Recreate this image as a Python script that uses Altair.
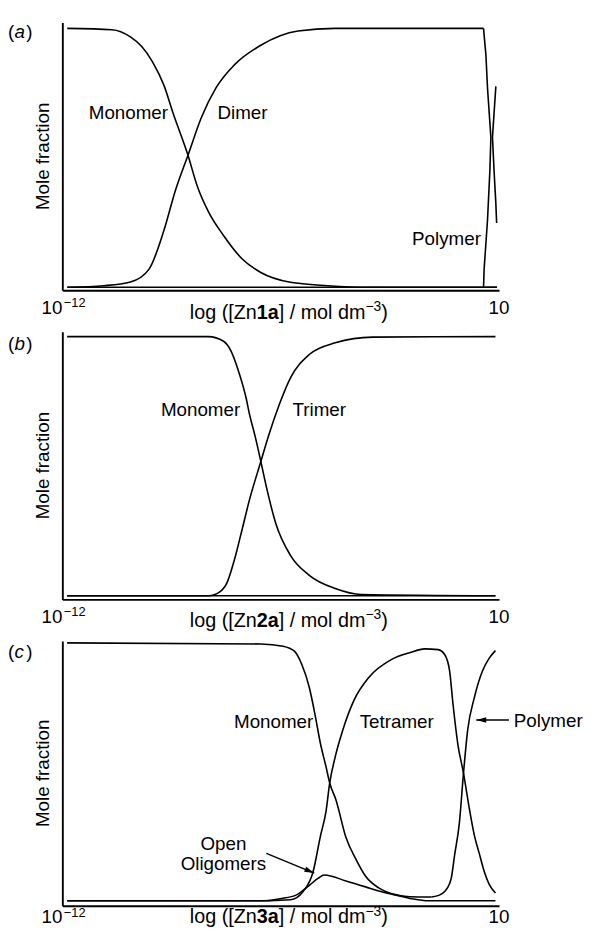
import altair as alt
import pandas as pd

# ---------------- data (log10 concentration vs mole fraction) ----------------
# Panel (a): Zn1a
A_MONOMER_X = [-11.75, -9.5, -8.57, -8.0, -7.45, -6.88, -6.41, -5.67, -5.2, -4.63, -3.88, -2.95, -2.0, -0.51, 1.37, 3.5, 9.9]
A_MONOMER_Y = [1.0, 0.995, 0.967, 0.93, 0.87, 0.78, 0.67, 0.51, 0.39, 0.29, 0.20, 0.11, 0.057, 0.019, 0.006, 0.0, 0.0]
A_DIMER_X = [-11.75, -9.9, -8.57, -7.63, -6.88, -6.3, -5.67, -5.0, -4.26, -3.32, -2.0, -0.13, 1.73, 9.22]
A_DIMER_Y = [0.0, 0.006, 0.02, 0.07, 0.22, 0.375, 0.51, 0.655, 0.77, 0.86, 0.935, 0.99, 1.0, 1.0]
A_DIMER_DROP_X = [9.22, 9.34, 9.42, 9.59, 9.54, 9.42, 9.25, 9.22]
A_DIMER_DROP_Y = [1.0, 0.897, 0.77, 0.579, 0.452, 0.26, 0.07, 0.0]
A_POLYMER_X = [9.84, 9.67, 9.75, 9.84, 9.88]
A_POLYMER_Y = [0.776, 0.58, 0.45, 0.324, 0.248]
A_POLYMER_ZERO_X = [-11.75, 9.9]
A_POLYMER_ZERO_Y = [0.0, 0.0]

# Panel (b): Zn2a
B_MONOMER_X = [-11.76, -4.63, -3.88, -3.5, -3.13, -2.75, -2.57, -2.28, -2.0, -1.72, -1.25, -0.5, 0.44, 1.75, 3.06, 9.82]
B_MONOMER_Y = [1.0, 1.0, 0.982, 0.944, 0.868, 0.766, 0.70, 0.613, 0.518, 0.42, 0.28, 0.155, 0.079, 0.028, 0.005, 0.0]
B_TRIMER_X = [-11.76, -4.63, -4.07, -3.69, -3.32, -2.94, -2.57, -2.0, -1.63, -1.06, -0.5, 0.44, 1.75, 3.63, 9.82]
B_TRIMER_Y = [0.0, 0.0, 0.015, 0.053, 0.142, 0.257, 0.371, 0.518, 0.613, 0.74, 0.842, 0.931, 0.976, 0.998, 1.0]
B_OTHER_X = [-11.76, 9.82]
B_OTHER_Y = [0.0, 0.0]

# Panel (c): Zn3a
C_MONOMER_X = [-11.76, -2.0, -0.88, -0.31, 0.06, 0.44, 0.72, 1.0, 1.28, 1.47, 1.79, 2.29, 2.8, 3.28, 3.94, 4.28, 5.0, 5.5, 6.6]
C_MONOMER_Y = [1.0, 0.996, 0.987, 0.968, 0.917, 0.828, 0.726, 0.611, 0.521, 0.457, 0.39, 0.245, 0.16, 0.095, 0.05, 0.036, 0.02, 0.016, 0.015]
C_TETRAMER_X = [-11.76, -2.0, -0.5, 0.13, 0.63, 1.0, 1.29, 1.47, 1.75, 2.13, 2.69, 3.44, 4.57, 5.5, 6.25, 6.93, 7.26,
                7.51, 7.68, 7.93, 8.21, 8.51, 8.76, 9.0, 9.25, 9.5, 9.82]
C_TETRAMER_Y = [0.0, 0.0, 0.004, 0.036, 0.112, 0.25, 0.35, 0.457, 0.559, 0.662, 0.777, 0.866, 0.935, 0.962, 0.977, 0.974, 0.955,
                0.892, 0.764, 0.605, 0.495, 0.355, 0.253, 0.185, 0.115, 0.065, 0.03]
C_POLYMER_X = [6.6, 7.0, 7.26, 7.5, 7.6, 7.76, 8.0, 8.21, 8.42, 8.76, 9.17, 9.5, 9.82]
C_POLYMER_Y = [0.015, 0.022, 0.036, 0.065, 0.09, 0.176, 0.30, 0.495, 0.662, 0.789, 0.892, 0.94, 0.97]
C_OLIGO_X = [-11.76, -1.7, -1.03, -0.2, 0.46, 0.88, 1.2, 2.29, 3.28, 3.94, 4.77, 5.61, 6.43, 9.82]
C_OLIGO_Y = [0.0, 0.0, 0.008, 0.023, 0.061, 0.087, 0.1, 0.077, 0.054, 0.038, 0.023, 0.008, 0.0, 0.0]

# text
X_MIN_BASE, X_MIN_EXP, X_MAX_LABEL = "10", "\u221212", "10"
Y_TITLE = "Mole fraction"
COMPOUNDS = ["1a", "2a", "3a"]
PANEL_LETTERS = ["a", "b", "c"]

# ---------------- helpers ----------------
FONT = "Liberation Sans"
W = 442
ONE = pd.DataFrame({"k": [0]})
AXIS = dict(title=None, labels=False, ticks=False, grid=False, domainColor="black", domainWidth=1.9)


def long_df(series):
    frames = []
    for key, xs, ys in series:
        frames.append(pd.DataFrame({"key": key, "i": list(range(len(xs))), "x": xs, "y": ys}))
    return pd.concat(frames, ignore_index=True)


def text(s, x, y, size=19, align="left", weight="normal", style="normal", angle=0, baseline="alphabetic"):
    return alt.Chart(ONE).mark_text(
        text=s, font=FONT, fontSize=size, align=align, baseline=baseline,
        fontWeight=weight, fontStyle=style, angle=angle, color="black"
    ).encode(x=alt.value(x), y=alt.value(y))


def curve_layer(df, ydom, interp):
    return alt.Chart(df).mark_line(color="black", strokeWidth=1.6, interpolate=interp).encode(
        x=alt.X("x:Q", scale=alt.Scale(domain=[-12, 10], nice=False, zero=False), axis=alt.Axis(**AXIS)),
        y=alt.Y("y:Q", scale=alt.Scale(domain=ydom, nice=False, zero=False), axis=alt.Axis(**AXIS)),
        detail="key:N",
        order="i:Q",
    )


def frame(letter, compound, h, letter_y, lab_dy, title_dy):
    return [
        text("(", -55, letter_y), text(letter, -48.5, letter_y, style="italic"), text(")", -36.5, letter_y),
        text(Y_TITLE, -20, h / 2, angle=270, align="center", baseline="middle"),
        text(X_MIN_BASE, 0, h + lab_dy, align="right"),
        text(X_MIN_EXP, 1.5, h + lab_dy - 7, size=13),
        text(X_MAX_LABEL, W, h + lab_dy, align="center"),
        text("log ([Zn", 129, h + title_dy, size=20),
        text(compound, 196.8, h + title_dy, size=20, weight="bold"),
        text("] / mol dm", 219, h + title_dy, size=20),
        text("\u22123", 306.8, h + title_dy - 8, size=14),
        text(")", 322.8, h + title_dy, size=20),
    ]


def arrow(x1, y1, x2, y2, angle):
    line = alt.Chart(ONE).mark_rule(color="black", strokeWidth=1.5).encode(
        x=alt.value(x1), y=alt.value(y1), x2=alt.value(x2), y2=alt.value(y2))
    head = alt.Chart(ONE).mark_point(
        shape="M0,0L-2,-0.55L-2,0.55Z", filled=True, color="black", opacity=1, size=100, angle=angle
    ).encode(x=alt.value(x2), y=alt.value(y2))
    return [line, head]


# ---------------- panel (a) ----------------
HA = 271
YDA = [-0.0115, 1.023]
pa = alt.layer(
    curve_layer(long_df([("mono", A_MONOMER_X, A_MONOMER_Y), ("dimer", A_DIMER_X, A_DIMER_Y),
                         ("pz", A_POLYMER_ZERO_X, A_POLYMER_ZERO_Y)]), YDA, "monotone"),
    curve_layer(long_df([("drop", A_DIMER_DROP_X, A_DIMER_DROP_Y), ("poly", A_POLYMER_X, A_POLYMER_Y)]), YDA, "linear"),
    text("Monomer", 107, 98, align="right"),
    text("Dimer", 157, 98),
    text("Polymer", 354, 225),
    *frame(PANEL_LETTERS[0], COMPOUNDS[0], HA, 16, 24, 29),
).properties(width=W, height=HA)

# ---------------- panel (b) ----------------
HB = 271
YDB = [-0.014, 1.019]
pb = alt.layer(
    curve_layer(long_df([("mono", B_MONOMER_X, B_MONOMER_Y), ("trimer", B_TRIMER_X, B_TRIMER_Y),
                         ("other", B_OTHER_X, B_OTHER_Y)]), YDB, "monotone"),
    text("Monomer", 180, 85, align="right"),
    text("Trimer", 233, 85),
    *frame(PANEL_LETTERS[1], COMPOUNDS[1], HB, 19, 24, 28),
).properties(width=W, height=HB)

# ---------------- panel (c) ----------------
HC = 268
YDC = [-0.019, 1.0077]
pc = alt.layer(
    curve_layer(long_df([("mono", C_MONOMER_X, C_MONOMER_Y), ("tetra", C_TETRAMER_X, C_TETRAMER_Y),
                         ("poly", C_POLYMER_X, C_POLYMER_Y), ("oligo", C_OLIGO_X, C_OLIGO_Y)]), YDC, "monotone"),
    text("Monomer", 254, 88, align="right"),
    text("Tetramer", 301, 88),
    text("Polymer", 457, 87),
    text("Open", 163, 212, align="center"),
    text("Oligomers", 163, 232, align="center"),
    *arrow(452, 80, 419, 80, 180),
    *arrow(206.5, 215, 255, 235, 22.4),
    *frame(PANEL_LETTERS[2], COMPOUNDS[2], HC, 17, 18, 18),
).properties(width=W, height=HC)

chart = alt.vconcat(pa, pb, pc, spacing=42, bounds="flush").properties(
    padding={"left": 0, "top": 9, "right": 0, "bottom": 0}
).configure_view(stroke=None)

chart.save("out.html", embed_options={"renderer": "svg", "actions": False})
